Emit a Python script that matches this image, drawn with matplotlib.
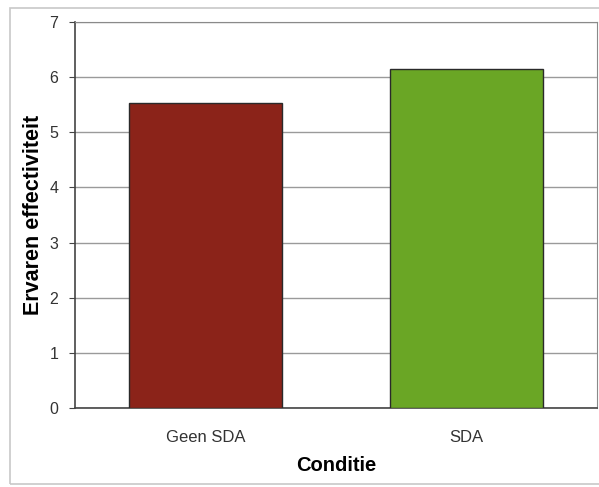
import matplotlib
matplotlib.use("Agg")
import matplotlib.pyplot as plt
from matplotlib.patches import Rectangle

plt.rcParams["font.family"] = ["Liberation Sans", "DejaVu Sans"]

# Perceived effectiveness per condition
conditions = ["Geen SDA", "SDA"]
effectiveness = [5.53, 6.15]
bar_colors = ["#8b2319", "#6aa625"]
y_ticks = [0, 1, 2, 3, 4, 5, 6, 7]

fig = plt.figure(figsize=(5.99, 4.87), dpi=100)
W, H = 599, 487

# light outer chart frame
fig.patches.append(Rectangle((10 / W, 3 / H), 1.2, (H - 8 - 3) / H,
                             transform=fig.transFigure, fill=False,
                             edgecolor="#c8c8c8", linewidth=1.2))

ax = fig.add_axes([75 / W, (H - 408) / H, (597 - 75) / W, (408 - 22) / H])

ax.set_ylim(0, 7)
ax.set_xlim(-0.5, 1.5)
ax.set_yticks(y_ticks)
ax.set_yticklabels([str(t) for t in y_ticks], fontsize=11.5, color="#333333")
ax.yaxis.grid(True, color="#9a9a9a", linewidth=1.0)
ax.set_axisbelow(True)

ax.bar(range(len(conditions)), effectiveness, width=0.59,
       color=bar_colors, edgecolor="#2a2a2a", linewidth=1.0, zorder=3)

ax.set_xticks(range(len(conditions)))
ax.set_xticklabels(conditions, fontsize=12, color="#333333")
ax.tick_params(axis="x", length=0, pad=16)
ax.tick_params(axis="y", length=4, direction="out", color="#444444", pad=8)

for side in ("top", "right"):
    ax.spines[side].set_color("#8a8a8a")
for side in ("left", "bottom"):
    ax.spines[side].set_color("#444444")
    ax.spines[side].set_linewidth(1.2)

ax.set_xlabel("Conditie", fontsize=14.5, fontweight="bold", labelpad=8)
ax.set_ylabel("Ervaren effectiviteit", fontsize=15.5, fontweight="bold", labelpad=4)

fig.savefig("out.png", dpi=100)
